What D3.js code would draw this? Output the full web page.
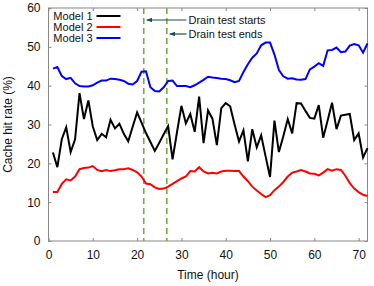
<!DOCTYPE html>
<html>
<head>
<meta charset="utf-8">
<script src="https://cdn.jsdelivr.net/npm/d3@7"></script>
<style>
  body { margin: 0; background: #fff; }
  svg { font-family: "Liberation Sans", Arial, sans-serif; }
</style>
</head>
<body>
<div id="chart"></div>
<script>
// hours 1..72
const hours = d3.range(1, 73)
const model1 = [22.8, 19, 26.2, 29.3, 22.9, 26.2, 38.1, 31.4, 36.2, 29.5, 26, 27.6, 26.7, 31.2, 29, 30.2, 27.6, 25.7,
  29.4, 33.1, 30.5, 27.8, 25.5, 23.2, 25.3, 27.5, 29.6, 21, 28, 34.8, 30.3, 32.7, 28.1, 37.2, 25.2, 33.6,
  31.5, 24.7, 34.2, 35.5, 34.7, 30, 25.6, 28.5, 20.5, 28.8, 24.1, 27.2, 21.8, 16.5, 31, 22.9, 27, 31.4,
  27.7, 35.5, 35.4, 33.5, 31.7, 31.5, 35, 26.6, 31, 35.6, 28.8, 32.3, 32.5, 32.7, 26, 27.7, 21.5, 23.9]
const model2 = [12.6, 12.6, 14.7, 15.9, 15.6, 16.6, 18.5, 18.8, 18.9, 19.3, 18.3, 18.0, 18.3, 18.0, 18.2, 18.5, 18.5, 18.7,
  18.3, 17.7, 16.6, 14.8, 14.6, 13.8, 13.4, 13.5, 14.0, 14.7, 15.4, 16.1, 16.6, 18.0, 17.9, 19.0, 17.9, 17.4,
  17.6, 17.4, 17.9, 18.1, 18.1, 18.0, 18.0, 16.6, 15.4, 14.0, 13.0, 12.1, 11.3, 11.8, 13.1, 14.0, 15.2, 16.6,
  17.6, 17.9, 18.3, 17.9, 17.4, 17.3, 16.9, 17.6, 18.5, 18.1, 18.5, 18.3, 16.8, 14.9, 13.5, 12.6, 11.9, 11.6]
const model3 = [44.4, 44.8, 42.5, 41.7, 42.0, 40.6, 39.9, 39.8, 39.8, 40.1, 40.8, 41.3, 41.3, 41.8, 41.7, 41.5, 41.2, 40.5,
  40.3, 41.2, 43.6, 43.7, 39.6, 38.6, 38.5, 39.6, 41.2, 41.3, 39.9, 39.9, 39.9, 39.6, 40.1, 40.8, 41.5, 42.3,
  42.1, 42.0, 41.8, 41.7, 41.4, 40.9, 41.2, 43.5, 45.5, 47.2, 48.3, 50.4, 51.1, 51.1, 48, 44, 42.4, 41.8,
  41.9, 41.6, 41.5, 41.7, 44.2, 44.9, 45.8, 45.1, 49.1, 49.2, 49.8, 48.6, 48.8, 50.3, 50.7, 50.4, 48.5, 50.9]

const seriesNames = ['Model 1', 'Model 2', 'Model 3']
const seriesColors = ['#000000', '#ff0000', '#0000ff']
const xTicks = [0, 10, 20, 30, 40, 50, 60, 70]
const yTicks = [0, 10, 20, 30, 40, 50, 60]
const drainStart = 21.5
const drainEnd = 26.7

const width = 374, height = 286
const margin = { top: 8, right: 6.5, bottom: 45, left: 48.5 }
const innerWidth = width - margin.left - margin.right
const innerHeight = height - margin.top - margin.bottom

const svg = d3.select('#chart').append('svg')
  .attr('width', width)
  .attr('height', height)

const g = svg.append('g')
  .attr('transform', `translate(${margin.left},${margin.top})`)

const x = d3.scaleLinear().domain([0, 72]).range([0, innerWidth])
const y = d3.scaleLinear().domain([0, 60]).range([innerHeight, 0])

// inward ticks on all four sides
const axisStyle = sel => {
  sel.select('.domain').remove()
  sel.selectAll('line').attr('stroke', '#888')
  sel.selectAll('text').attr('fill', '#111').style('font-size', '12px')
}
const mirrorStyle = sel => {
  sel.select('.domain').remove()
  sel.selectAll('text').remove()
  sel.selectAll('line').attr('stroke', '#888')
}

g.append('g')
  .attr('transform', `translate(0,${innerHeight})`)
  .call(d3.axisBottom(x).tickValues(xTicks).tickSizeInner(-3).tickSizeOuter(0).tickPadding(9))
  .call(axisStyle)

g.append('g')
  .call(d3.axisLeft(y).tickValues(yTicks).tickSizeInner(-3).tickSizeOuter(0).tickPadding(8))
  .call(axisStyle)

g.append('g')
  .call(d3.axisTop(x).tickValues(xTicks).tickSizeInner(-3).tickSizeOuter(0))
  .call(mirrorStyle)

g.append('g')
  .attr('transform', `translate(${innerWidth},0)`)
  .call(d3.axisRight(y).tickValues(yTicks).tickSizeInner(-3).tickSizeOuter(0))
  .call(mirrorStyle)

g.append('rect')
  .attr('width', innerWidth)
  .attr('height', innerHeight)
  .attr('fill', 'none')
  .attr('stroke', '#888')
  .attr('stroke-width', 1)

// drain test markers
g.selectAll('.drain')
  .data([drainStart, drainEnd])
  .enter().append('line')
  .attr('class', 'drain')
  .attr('x1', d => x(d)).attr('x2', d => x(d))
  .attr('y1', 0).attr('y2', innerHeight)
  .attr('stroke', '#77aa44')
  .attr('stroke-width', 1.6)
  .attr('stroke-dasharray', '6,4')

// series
const line = d3.line()
  .x((d, i) => x(hours[i]))
  .y(d => y(d))

const allSeries = [model1, model2, model3]
g.selectAll('.series')
  .data(allSeries)
  .enter().append('path')
  .attr('class', 'series')
  .attr('d', line)
  .attr('fill', 'none')
  .attr('stroke', (d, i) => seriesColors[i])
  .attr('stroke-width', 2)
  .attr('stroke-linejoin', 'miter')

// legend
const legend = g.append('g')
const rows = legend.selectAll('g')
  .data(seriesNames)
  .enter().append('g')
  .attr('transform', (d, i) => `translate(0,${8 + i * 11})`)

rows.append('text')
  .attr('x', 44)
  .attr('dy', '0.35em')
  .attr('text-anchor', 'end')
  .style('font-size', '11px')
  .attr('fill', '#111')
  .text(d => d)

rows.append('line')
  .attr('x1', 48).attr('x2', 72)
  .attr('stroke', (d, i) => seriesColors[i])
  .attr('stroke-width', 2)

// annotations
svg.append('defs').append('marker')
  .attr('id', 'arrow')
  .attr('viewBox', '0 0 10 10')
  .attr('refX', 9).attr('refY', 5)
  .attr('markerWidth', 6).attr('markerHeight', 6)
  .attr('markerUnits', 'userSpaceOnUse')
  .attr('orient', 'auto')
  .append('path')
  .attr('d', 'M0,1 L10,5 L0,9 Z')
  .attr('fill', '#1d4b5a')

const notes = [
  { text: 'Drain test starts', at: drainStart, yPos: 12 },
  { text: 'Drain test ends', at: drainEnd, yPos: 26 }
]

const noteG = g.selectAll('.note')
  .data(notes)
  .enter().append('g')
  .attr('class', 'note')

noteG.append('line')
  .attr('x1', 138)
  .attr('x2', d => x(d.at) + 3)
  .attr('y1', d => d.yPos).attr('y2', d => d.yPos)
  .attr('stroke', '#1d4b5a')
  .attr('stroke-width', 1.2)
  .attr('marker-end', 'url(#arrow)')

noteG.append('text')
  .attr('x', 140)
  .attr('y', d => d.yPos)
  .attr('dy', '0.35em')
  .style('font-size', '11px')
  .attr('fill', '#111')
  .text(d => d.text)

// axis titles
svg.append('text')
  .attr('x', margin.left + innerWidth / 2)
  .attr('y', 279)
  .attr('text-anchor', 'middle')
  .style('font-size', '12px')
  .attr('fill', '#111')
  .text('Time (hour)')

svg.append('text')
  .attr('transform', `translate(12,${margin.top + innerHeight / 2}) rotate(-90)`)
  .attr('text-anchor', 'middle')
  .style('font-size', '12px')
  .attr('fill', '#111')
  .text('Cache hit rate (%)')
</script>
</body>
</html>
